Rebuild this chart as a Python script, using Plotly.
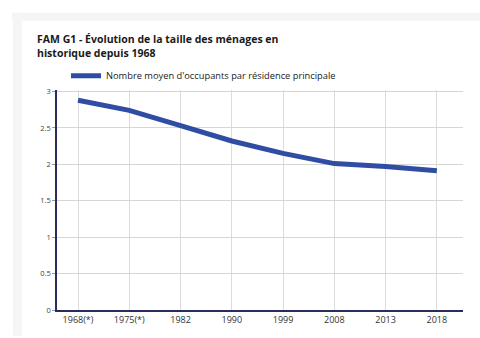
import plotly.graph_objects as go

categories = ["1968(*)", "1975(*)", "1982", "1990", "1999", "2008", "2013", "2018"]
occupants = [2.88, 2.74, 2.53, 2.32, 2.15, 2.01, 1.97, 1.91]
y_ticks = [0, 0.5, 1, 1.5, 2, 2.5, 3]
y_tick_labels = ["0", "0.5", "1", "1.5", "2", "2.5", "3"]
series_name = "Nombre moyen d'occupants par résidence principale"
title_text = "<b>FAM G1 - Évolution de la taille des ménages en<br>historique depuis 1968</b>"

fig = go.Figure()
fig.add_trace(go.Scatter(
    x=list(range(len(categories))), y=occupants, mode="lines",
    line=dict(color="#2f4ea3", width=5), name=series_name, showlegend=True,
))

W, H = 480, 338
L, R, T, B = 57, 17, 90, 26
PW, PH = W - L - R, H - T - B
fig.update_layout(
    width=W, height=H,
    margin=dict(l=L, r=R, t=T, b=B),
    paper_bgcolor="white", plot_bgcolor="white",
    font=dict(family="Open Sans, Arial", size=8, color="#333333"),
    title=dict(text=title_text, x=37 / W, xanchor="left", y=1 - 43 / H, yanchor="top",
               font=dict(family="Open Sans", size=10.5, color="#1a1a1a")),
    showlegend=True,
    legend=dict(x=(66 - L) / PW, xanchor="left", y=1 + (T - 61) / PH, yanchor="top",
                orientation="h", bgcolor="rgba(0,0,0,0)", font=dict(size=9.3, color="#1a1a1a"),
                itemwidth=30),
    xaxis=dict(
        tickmode="array", tickvals=list(range(len(categories))), ticktext=categories,
        range=[-0.41, 7.51], showgrid=True, gridcolor="#dcdcdc", gridwidth=1,
        zeroline=False, showline=True, linecolor="#2a2d5a", linewidth=2,
        ticks="", tickfont=dict(size=9, color="#333333"),
    ),
    yaxis=dict(
        tickmode="array", tickvals=y_ticks, ticktext=y_tick_labels,
        range=[0, 3.02], showgrid=True, gridcolor="#d6d6d6", gridwidth=1,
        zeroline=False, showline=True, linecolor="#2a2d5a", linewidth=1.5,
        ticks="outside", ticklen=3, tickcolor="#999999", tickfont=dict(size=7.5, color="#444444"),
    ),
    shapes=[
        dict(type="rect", xref="paper", yref="paper", x0=-44 / PW, x1=-35 / PW,
             y0=-B / PH, y1=1 + (T - 12) / PH, fillcolor="#f5f5f5", line=dict(width=0),
             layer="below"),
        dict(type="rect", xref="paper", yref="paper", x0=-45 / PW, x1=1 + R / PW,
             y0=1 + (T - 20) / PH, y1=1 + (T - 12) / PH, fillcolor="#f5f5f5",
             line=dict(width=0), layer="below"),
    ],
)

fig.write_html("out.html")
